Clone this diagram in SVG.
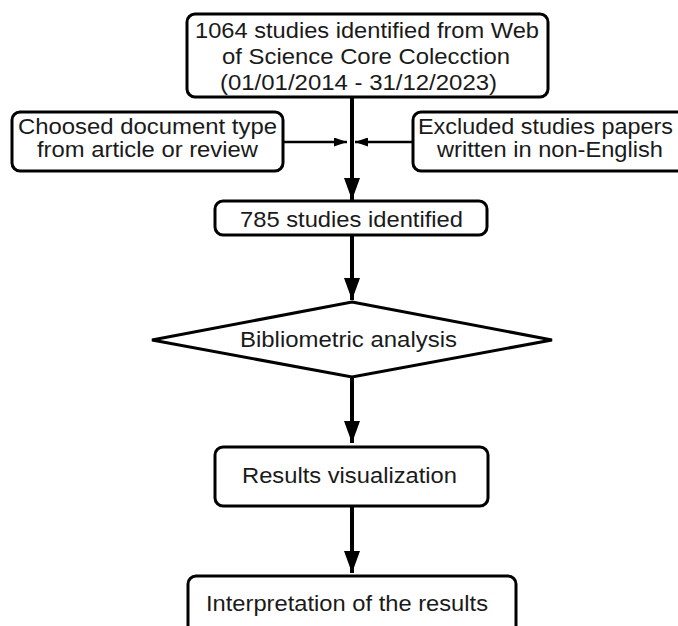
<svg xmlns="http://www.w3.org/2000/svg" width="678" height="626" viewBox="0 0 678 626">
<style>
.box{fill:#fff;stroke:#000;stroke-width:3}
.t{font-family:"Liberation Sans",Arial,sans-serif;font-size:22px;fill:#1a1a1a}
.main{stroke:#000;stroke-width:4;fill:none}
.side{stroke:#000;stroke-width:2.5;fill:none}
</style>
<defs>
<marker id="big" markerUnits="userSpaceOnUse" viewBox="0 0 22 16" refX="22" refY="8" markerWidth="22" markerHeight="16" orient="auto"><path d="M0,0 L22,8 L0,16 z" fill="#000"/></marker>
<marker id="small" markerUnits="userSpaceOnUse" viewBox="0 0 13 9" refX="13" refY="4.5" markerWidth="13" markerHeight="9" orient="auto"><path d="M0,0 L13,4.5 L0,9 z" fill="#000"/></marker>
</defs>
<g id="connectors">
<line class="main" x1="352" y1="97" x2="352" y2="200" marker-end="url(#big)"/>
<line class="side" x1="283" y1="142" x2="347" y2="142" marker-end="url(#small)"/>
<line class="side" x1="413" y1="142" x2="355" y2="142" marker-end="url(#small)"/>
<line class="main" x1="352" y1="235" x2="352" y2="300" marker-end="url(#big)"/>
<line class="main" x1="352" y1="377" x2="352" y2="443" marker-end="url(#big)"/>
<line class="main" x1="352" y1="506" x2="352" y2="573" marker-end="url(#big)"/>
</g>
<g id="n1">
<rect class="box" x="187" y="14" width="361" height="83" rx="8"/>
<text class="t" x="195" y="38" textLength="344" lengthAdjust="spacingAndGlyphs">1064 studies identified from Web</text>
<text class="t" x="222" y="64" textLength="288" lengthAdjust="spacingAndGlyphs">of Science Core Colecction</text>
<text class="t" x="220" y="90" textLength="277" lengthAdjust="spacingAndGlyphs">(01/01/2014 - 31/12/2023)</text>
</g>
<g id="n2">
<rect class="box" x="12" y="112" width="271" height="59" rx="8"/>
<text class="t" x="18" y="134" textLength="259" lengthAdjust="spacingAndGlyphs">Choosed document type</text>
<text class="t" x="37" y="157" textLength="221" lengthAdjust="spacingAndGlyphs">from article or review</text>
</g>
<g id="n3">
<rect class="box" x="413" y="112" width="275" height="59" rx="8"/>
<text class="t" x="418" y="134" textLength="255" lengthAdjust="spacingAndGlyphs">Excluded studies papers</text>
<text class="t" x="437" y="157" textLength="226" lengthAdjust="spacingAndGlyphs">written in non-English</text>
</g>
<g id="n4">
<rect class="box" x="215" y="201" width="272" height="34" rx="8"/>
<text class="t" x="240" y="227" textLength="223" lengthAdjust="spacingAndGlyphs">785 studies identified</text>
</g>
<g id="n5">
<polygon class="box" points="352,302 552,340 352,377 152,340"/>
<text class="t" x="240" y="347" textLength="217" lengthAdjust="spacingAndGlyphs">Bibliometric analysis</text>
</g>
<g id="n6">
<rect class="box" x="215" y="447" width="273" height="59" rx="8"/>
<text class="t" x="242" y="483" textLength="215" lengthAdjust="spacingAndGlyphs">Results visualization</text>
</g>
<g id="n7">
<rect class="box" x="188" y="576" width="328" height="70" rx="8"/>
<text class="t" x="206" y="611" textLength="282" lengthAdjust="spacingAndGlyphs">Interpretation of the results</text>
</g>
</svg>
